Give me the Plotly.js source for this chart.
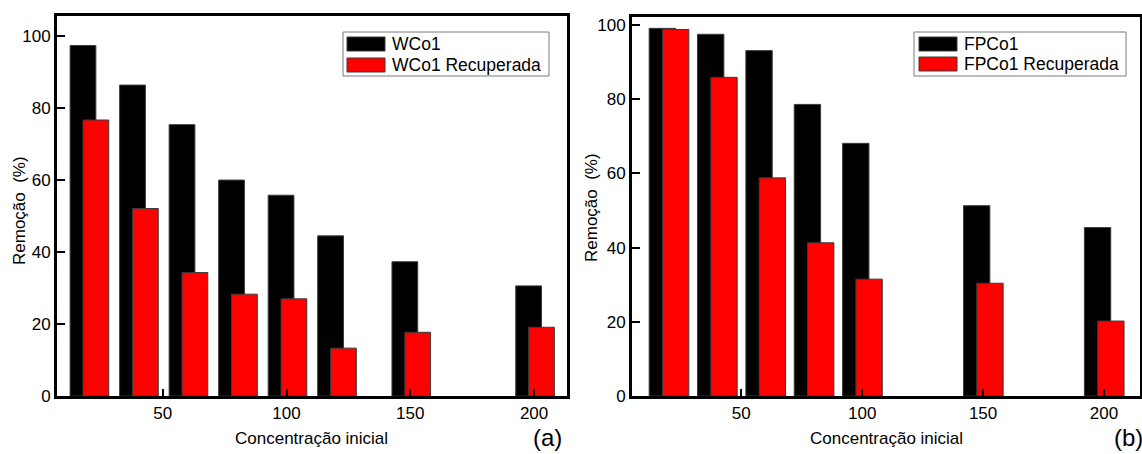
<!DOCTYPE html>
<html>
<head>
<meta charset="utf-8">
<script src="https://cdn.plot.ly/plotly-3.0.1.min.js"></script>
<style>html,body{margin:0;padding:0;background:#fff;}#chart{width:1142px;height:454px;}</style>
</head>
<body>
<div id="chart"></div>
<script>
// ---- data ----
const concA = [20, 40, 60, 80, 100, 120, 150, 200];
const wco1 = [97.4, 86.4, 75.4, 60.0, 55.8, 44.5, 37.3, 30.6];
const wco1Rec = [76.7, 52.1, 34.3, 28.3, 27.0, 13.3, 17.7, 19.1];

const concB = [20, 40, 60, 80, 100, 150, 200];
const fpco1 = [99.1, 97.5, 93.1, 78.6, 68.1, 51.3, 45.4];
const fpco1Rec = [98.8, 85.9, 58.8, 41.3, 31.5, 30.4, 20.2];

const xTicks = [50, 100, 150, 200];
const yTicks = [0, 20, 40, 60, 80, 100];
const nameA = ["WCo1", "WCo1 Recuperada"];
const nameB = ["FPCo1", "FPCo1 Recuperada"];
const yTitle = "Remoção\u00a0\u00a0(%)";
const xTitle = "Concentração inicial";

// ---- layout helpers ----
const W = 1142, H = 454;
const px = v => v / W, py = v => 1 - v / H;
const FONT = "Liberation Sans, Arial, sans-serif";
const edge = {color: "#3a3a3a", width: 1};

const traces = [
  {type: "bar", x: concA, y: wco1, name: nameA[0], xaxis: "x", yaxis: "y",
   width: 10.4, offset: -7.4, marker: {color: "#000000", line: edge}, showlegend: false},
  {type: "bar", x: concA, y: wco1Rec, name: nameA[1], xaxis: "x", yaxis: "y",
   width: 10.4, offset: -2.2, marker: {color: "#ff0000", line: edge}, showlegend: false},
  {type: "bar", x: concB, y: fpco1, name: nameB[0], xaxis: "x2", yaxis: "y2",
   width: 10.9, offset: -8.1, marker: {color: "#000000", line: edge}, showlegend: false},
  {type: "bar", x: concB, y: fpco1Rec, name: nameB[1], xaxis: "x2", yaxis: "y2",
   width: 10.9, offset: -2.6, marker: {color: "#ff0000", line: edge}, showlegend: false}
];

function xax(domain, range, anchor) {
  return {domain: domain, range: range, anchor: anchor, tickvals: xTicks,
    ticks: "inside", ticklen: 7, tickwidth: 2, tickcolor: "#000",
    showline: true, linecolor: "#000", linewidth: 3, mirror: true,
    showgrid: false, zeroline: false, fixedrange: true,
    tickfont: {family: FONT, size: 17, color: "#000"}, layer: "above traces"};
}
function yax(domain, range, anchor) {
  return {domain: domain, range: range, anchor: anchor, tickvals: yTicks,
    ticks: "inside", ticklen: 8, tickwidth: 2, tickcolor: "#000",
    showline: true, linecolor: "#000", linewidth: 3, mirror: true,
    showgrid: false, zeroline: false, fixedrange: true,
    tickfont: {family: FONT, size: 17, color: "#000"}, layer: "above traces"};
}

const shapes = [];
const annotations = [];
function legend(box, sw, rows, names) {
  shapes.push({type: "rect", xref: "paper", yref: "paper",
    x0: px(box[0]), x1: px(box[1]), y0: py(box[3]), y1: py(box[2]),
    line: {color: "#7a7a7a", width: 1}, fillcolor: "#ffffff", layer: "above"});
  const cols = ["#000000", "#ff0000"];
  rows.forEach((r, i) => {
    shapes.push({type: "rect", xref: "paper", yref: "paper",
      x0: px(sw[0]), x1: px(sw[1]), y0: py(r[1]), y1: py(r[0]),
      line: {color: "#3a3a3a", width: 1}, fillcolor: cols[i], layer: "above"});
    annotations.push({xref: "paper", yref: "paper", x: px(sw[1] + 5), y: py((r[0] + r[1]) / 2),
      xanchor: "left", yanchor: "middle", showarrow: false, text: names[i],
      font: {family: FONT, size: 17.5, color: "#000"}});
  });
}
legend([343, 549, 32, 76], [347, 385], [[37, 51], [58, 72]], nameA);
legend([914, 1126, 32, 76], [919, 957], [[37, 51], [57, 71]], nameB);

function txt(x, y, t, size, angle) {
  annotations.push({xref: "paper", yref: "paper", x: px(x), y: py(y), xanchor: "center",
    yanchor: "middle", showarrow: false, text: t, textangle: angle || 0,
    font: {family: FONT, size: size, color: "#000"}});
}
txt(20, 211, yTitle, 17, -90);
txt(591, 208, yTitle, 17, -90);
txt(311, 438, xTitle, 17);
txt(886, 438, xTitle, 17);
txt(547, 437, "(a)", 24);
txt(1128, 437, "(b)", 24);

const layout = {
  width: W, height: H, margin: {l: 0, r: 0, t: 0, b: 0},
  paper_bgcolor: "#fff", plot_bgcolor: "#fff", barmode: "overlay", showlegend: false,
  font: {family: FONT, color: "#000"},
  xaxis: xax([px(57), px(567)], [7.3, 213.3], "y"),
  yaxis: yax([py(396), py(16)], [0, 105.6], "x"),
  xaxis2: xax([px(632), px(1140)], [4.8, 214.9], "y2"),
  yaxis2: yax([py(396), py(16.5)], [0, 102.3], "x2"),
  shapes: shapes, annotations: annotations
};
Plotly.newPlot("chart", traces, layout, {staticPlot: true, displayModeBar: false});
</script>
</body>
</html>
